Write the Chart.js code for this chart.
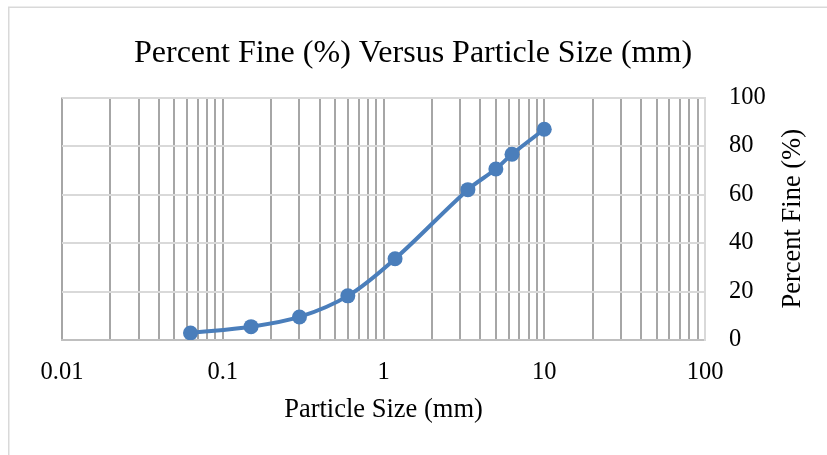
<!DOCTYPE html>
<html>
<head>
<meta charset="utf-8">
<script src="https://cdn.jsdelivr.net/npm/chart.js@4/dist/chart.umd.min.js"></script>
<style>
  html, body { margin: 0; padding: 0; background: #ffffff; }
  #wrap { position: relative; width: 827px; height: 455px; overflow: hidden; }
  canvas { display: block; }
</style>
</head>
<body>
<div id="wrap"><canvas id="c" width="827" height="455"></canvas></div>
<script>
// ---- data ----
const particleSizes = [0.063, 0.15, 0.3, 0.6, 1.18, 3.35, 5, 6.3, 10];
const percentFine   = [2.9, 5.5, 9.5, 18.2, 33.5, 62, 70.5, 76.6, 86.9];
const xMajorTicks   = [0.01, 0.1, 1, 10, 100];
const xTickLabels   = ['0.01', '0.1', '1', '10', '100'];
const xMinorSteps   = [2, 3, 4, 5, 6, 7, 8, 9];
const yTicks        = [0, 20, 40, 60, 80, 100];
const chartTitle    = 'Percent Fine (%) Versus Particle Size (mm)';
const xAxisTitle    = 'Particle Size (mm)';
const yAxisTitle    = 'Percent Fine (%)';

const FONT = "'Liberation Serif', 'Times New Roman', serif";

// grid values: majors plus minor multiples inside each decade
const xGridValues = [];
xMajorTicks.forEach((m, i) => {
  xGridValues.push(m);
  if (i < xMajorTicks.length - 1) xMinorSteps.forEach(s => xGridValues.push(+(m * s).toPrecision(6)));
});

const decorPlugin = {
  id: 'decor',
  beforeDraw(chart) {
    const ctx = chart.ctx;
    ctx.save();
    ctx.fillStyle = '#ffffff';
    ctx.fillRect(0, 0, chart.width, chart.height);
    ctx.strokeStyle = '#d9d9d9';
    ctx.lineWidth = 1.5;
    ctx.strokeRect(8.75, 7.25, 900, 600);
    ctx.restore();
  },
  afterDraw(chart) {
    const ctx = chart.ctx;
    const area = chart.chartArea;
    ctx.save();
    ctx.fillStyle = '#000000';
    ctx.textAlign = 'center';
    ctx.textBaseline = 'middle';
    ctx.font = '32px ' + FONT;
    ctx.fillText(chartTitle, 413, 54);
    ctx.translate(793, (area.top + area.bottom) / 2);
    ctx.rotate(-Math.PI / 2);
    ctx.font = '26.5px ' + FONT;
    ctx.fillText(yAxisTitle, 0, 0);
    ctx.restore();
  }
};

new Chart(document.getElementById('c'), {
  type: 'line',
  data: {
    datasets: [{
      data: particleSizes.map((x, i) => ({ x: x, y: percentFine[i] })),
      borderColor: '#4a7ebb',
      backgroundColor: '#4a7ebb',
      borderWidth: 4,
      pointRadius: 7.5,
      pointBorderWidth: 0,
      pointBackgroundColor: '#4a7ebb',
      tension: 0.35,
      fill: false
    }]
  },
  options: {
    responsive: false,
    animation: false,
    events: [],
    layout: { padding: { left: 62, top: 97.5, right: 0, bottom: 0 } },
    plugins: {
      legend: { display: false },
      title: { display: false },
      tooltip: { enabled: false }
    },
    scales: {
      x: {
        type: 'logarithmic',
        position: 'bottom',
        min: 0.01,
        max: 100,
        afterBuildTicks(scale) {
          scale.ticks = xGridValues.map(v => ({ value: v, major: xMajorTicks.includes(v) }));
        },
        afterFit(scale) { scale.height = 115; },
        ticks: {
          autoSkip: false,
          maxRotation: 0,
          padding: 18,
          color: '#000000',
          font: { family: FONT, size: 24.5 },
          callback(value) {
            const i = xMajorTicks.findIndex(m => Math.abs(m - value) < m * 1e-6);
            return i >= 0 ? xTickLabels[i] : '';
          }
        },
        grid: {
          drawTicks: false,
          lineWidth: 2,
          color(ctx) {
            return (ctx.tick && ctx.tick.value === 100) ? '#d9d9d9' : '#a6a6a6';
          }
        },
        border: { display: true, color: '#bfbfbf', width: 2 },
        title: {
          display: true,
          text: xAxisTitle,
          color: '#000000',
          font: { family: FONT, size: 26.5 },
          padding: { top: 0, bottom: 29 }
        }
      },
      y: {
        type: 'linear',
        position: 'right',
        min: 0,
        max: 100,
        afterBuildTicks(scale) {
          scale.ticks = yTicks.map(v => ({ value: v }));
        },
        afterFit(scale) { scale.width = 122; },
        ticks: {
          padding: 24,
          color: '#000000',
          font: { family: FONT, size: 24.5 }
        },
        grid: {
          drawTicks: false,
          lineWidth: 2,
          color: '#d9d9d9'
        },
        border: { display: true, color: '#d9d9d9', width: 2 }
      }
    }
  },
  plugins: [decorPlugin]
});
</script>
</body>
</html>
